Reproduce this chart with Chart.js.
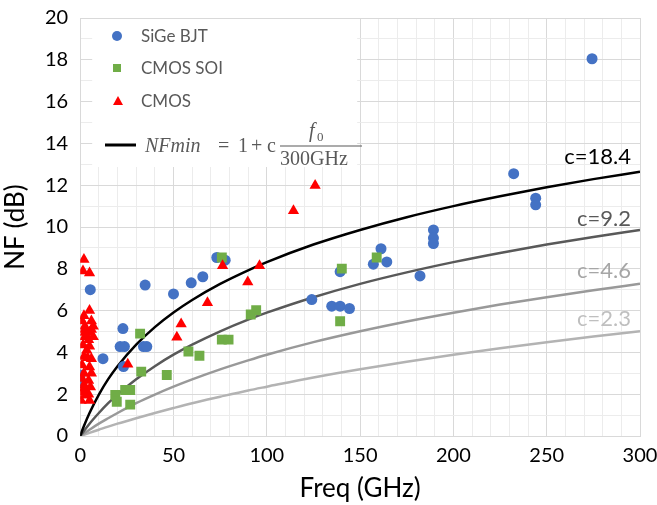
<!DOCTYPE html>
<html>
<head>
<meta charset="utf-8">
<script src="https://cdn.jsdelivr.net/npm/chart.js@4.4.1/dist/chart.umd.min.js"></script>
<style>
  html, body { margin: 0; padding: 0; background: #fff; }
  #wrap { width: 657px; height: 505px; }
</style>
</head>
<body>
<div id="wrap"><canvas id="nfChart" width="657" height="505"></canvas></div>
<script>
// SiGe BJT
const sigeFreq = [274.3, 232.3, 244.1, 244.1, 189.3, 189.3, 189.3, 161.2, 157.1, 164.3, 182.1, 139.3, 134.8, 139.3, 144.3, 124.1, 65.7, 73.2, 77.7, 59.5, 50, 34.8, 22.9, 21.4, 23.7, 33.9, 35.7, 23.2, 12.2, 5.4, 0, 0.5];
const sigeNF   = [18.05, 12.55, 11.38, 11.06, 9.86, 9.47, 9.21, 8.96, 8.22, 8.33, 7.66, 7.86, 6.21, 6.21, 6.1, 6.53, 7.62, 8.54, 8.41, 7.33, 6.8, 7.22, 5.14, 4.28, 4.28, 4.28, 4.28, 3.32, 3.7, 7.0, 2.92, 2.55];

// CMOS SOI
const soiFreq = [18.8, 19.6, 24.1, 26.8, 26.8, 32.1, 32.7, 46.4, 58, 63.9, 75.9, 79.5, 75.9, 91.4, 94.3, 139.3, 140.2, 158.9];
const soiNF   = [1.96, 1.64, 2.2, 2.2, 1.5, 4.9, 3.08, 2.92, 4.04, 3.84, 4.61, 4.61, 8.54, 5.81, 6.02, 5.49, 8.01, 8.54];

// CMOS (bulk)
const cmosFreq = [2, 1.5, 5, 5, 2, 6, 1, 2.5, 7, 2.5, 5, 2.5, 6, 2.5, 7, 4.5, 5, 1.5, 3.5, 2, 4, 6, 1, 5, 2, 6, 1, 4.5, 2, 5.5, 1, 4.5, 0.5, 5, 2, 3,
                  125.9, 114.3, 96.1, 89.8, 76.3, 68.2, 54.1, 51.8, 25.5];
const cmosNF   = [8.45, 7.9, 7.8, 6.0, 5.75, 5.5, 5.5, 5.25, 5.25, 4.95, 4.95, 5.1, 5.1, 4.75, 4.75, 4.6, 4.3, 4.35, 4.1, 3.8, 3.75, 3.7, 3.4, 3.3, 3.0, 3.0, 2.75, 2.65, 2.45, 2.35, 2.1, 2.0, 1.7, 1.7, 2.3, 1.95,
                  11.99, 10.78, 8.14, 7.37, 8.14, 6.37, 5.36, 4.73, 3.43];

// NFmin curves
const curveFreq = [0, 1, 2, 5, 10, 15, 20, 30, 40, 50, 60, 75, 90, 100, 125, 150, 175, 200, 225, 250, 275, 300];
const nfC184 = [0, 0.25, 0.48, 1.10, 1.98, 2.72, 3.34, 4.37, 5.21, 5.91, 6.51, 7.28, 7.93, 8.32, 9.16, 9.86, 10.47, 11.00, 11.47, 11.90, 12.29, 12.64];
const nfC92  = [0, 0.12, 0.24, 0.59, 1.10, 1.57, 1.98, 2.71, 3.34, 3.89, 4.37, 5.01, 5.57, 5.90, 6.64, 7.28, 7.83, 8.32, 8.76, 9.16, 9.52, 9.86];
const nfC46  = [0, 0.06, 0.12, 0.30, 0.59, 0.85, 1.10, 1.57, 1.98, 2.36, 2.71, 3.19, 3.62, 3.89, 4.49, 5.01, 5.48, 5.90, 6.29, 6.64, 6.97, 7.28];
const nfC23  = [0, 0.03, 0.06, 0.15, 0.30, 0.45, 0.59, 0.85, 1.10, 1.34, 1.57, 1.88, 2.18, 2.36, 2.80, 3.19, 3.55, 3.89, 4.20, 4.49, 4.76, 5.01];

const curveLabels = ["c=18.4", "c=9.2", "c=4.6", "c=2.3"];
const curveLabelNF = [13.35, 10.4, 7.9, 5.6];
const curveLabelColors = ["#000000", "#595959", "#a6a6a6", "#bfbfbf"];

const xTicks = [0, 50, 100, 150, 200, 250, 300];
const yTicks = [0, 2, 4, 6, 8, 10, 12, 14, 16, 18, 20];

const pts = (xs, ys) => xs.map((x, i) => ({ x: x, y: ys[i] }));

const FONT = "Lato, 'Open Sans', sans-serif";

// legend drawn as a white box inside the plot, like the original
const boxLegend = {
  id: "boxLegend",
  beforeDatasetsDraw(chart) {
    const ctx = chart.ctx;
    const a = chart.chartArea;
    ctx.save();
    ctx.fillStyle = "#ffffff";
    ctx.fillRect(a.left + 12, a.top + 1, 265, 148);

    ctx.font = "17px " + FONT;
    ctx.textBaseline = "middle";
    ctx.textAlign = "left";

    // SiGe
    ctx.fillStyle = "#4472C4";
    ctx.beginPath(); ctx.arc(117, 36, 5, 0, Math.PI * 2); ctx.fill();
    ctx.fillStyle = "#595959";
    ctx.fillText("SiGe BJT", 141, 37);
    // SOI
    ctx.fillStyle = "#70AD47";
    ctx.fillRect(113, 64, 8, 8);
    ctx.fillStyle = "#595959";
    ctx.fillText("CMOS SOI", 141, 69);
    // CMOS
    ctx.fillStyle = "#FF0000";
    ctx.beginPath(); ctx.moveTo(118, 96); ctx.lineTo(123, 105); ctx.lineTo(113, 105); ctx.closePath(); ctx.fill();
    ctx.fillStyle = "#595959";
    ctx.fillText("CMOS", 141, 102);
    // formula
    ctx.strokeStyle = "#000"; ctx.lineWidth = 3;
    ctx.beginPath(); ctx.moveTo(105, 145); ctx.lineTo(136, 145); ctx.stroke();
    ctx.textBaseline = "alphabetic";
    ctx.font = "italic 20px 'Liberation Serif', serif";
    ctx.fillText("NFmin", 145, 152);
    ctx.font = "20px 'Liberation Serif', serif";
    ctx.fillText("=", 218, 152);
    ctx.fillText("1", 238, 152);
    ctx.fillText("+", 251, 152);
    ctx.fillText("c", 267, 152);
    ctx.font = "italic 20px 'Liberation Serif', serif";
    ctx.fillText("f", 309, 137);
    ctx.font = "13px 'Liberation Serif', serif";
    ctx.fillText("0", 317, 141);
    ctx.strokeStyle = "#595959"; ctx.lineWidth = 1.2;
    ctx.beginPath(); ctx.moveTo(280, 146); ctx.lineTo(362, 146); ctx.stroke();
    ctx.font = "20px 'Liberation Serif', serif";
    ctx.fillText("300GHz", 280, 165);
    ctx.restore();
  }
};

const curveText = {
  id: "curveText",
  afterDatasetsDraw(chart) {
    const ctx = chart.ctx;
    const xs = chart.scales.x, ys = chart.scales.y;
    ctx.save();
    ctx.font = "22px " + FONT;
    ctx.textAlign = "right";
    ctx.textBaseline = "middle";
    curveLabels.forEach((t, i) => {
      ctx.fillStyle = curveLabelColors[i];
      ctx.fillText(t, xs.getPixelForValue(300) - 9, ys.getPixelForValue(curveLabelNF[i]));
    });
    ctx.restore();
  }
};

const lineSet = (data, color) => ({
  type: "line",
  data: pts(curveFreq, data),
  borderColor: color,
  borderWidth: 2.5,
  pointRadius: 0,
  fill: false,
  cubicInterpolationMode: "monotone",
  order: 2
});

new Chart(document.getElementById("nfChart"), {
  type: "scatter",
  data: {
    datasets: [
      lineSet(nfC184, "#000000"),
      lineSet(nfC92, "#595959"),
      lineSet(nfC46, "#999999"),
      lineSet(nfC23, "#b3b3b3"),
      { label: "CMOS", data: pts(cmosFreq, cmosNF), pointStyle: "triangle", pointRadius: 6.5, backgroundColor: "#FF0000", borderColor: "#FF0000", borderWidth: 0, order: 1 },
      { label: "CMOS SOI", data: pts(soiFreq, soiNF), pointStyle: "rect", pointRadius: 7, backgroundColor: "#70AD47", borderColor: "#70AD47", borderWidth: 0, order: 1 },
      { label: "SiGe BJT", data: pts(sigeFreq, sigeNF), pointStyle: "circle", pointRadius: 5.5, backgroundColor: "#4472C4", borderColor: "#4472C4", borderWidth: 0, order: 1 }
    ]
  },
  options: {
    responsive: false,
    animation: false,
    layout: { padding: { left: 3, right: 0, top: 0, bottom: 3 } },
    plugins: { legend: { display: false }, tooltip: { enabled: false } },
    scales: {
      x: {
        type: "linear", min: 0, max: 300,
        afterFit: s => { s.paddingRight = 17; },
        ticks: {
          stepSize: 10, autoSkip: false, maxRotation: 0, padding: 8,
          color: "#000", font: { family: FONT, size: 20 },
          callback: v => xTicks.includes(v) ? v : ""
        },
        grid: { drawTicks: false, color: c => (c.tick && c.tick.value % 50 === 0) ? "#d9d9d9" : "#ececec" },
        border: { color: "#d9d9d9" },
        title: { display: true, text: "Freq (GHz)", color: "#000", font: { family: FONT, size: 26, lineHeight: 1 }, padding: { top: 0, bottom: 0 } }
      },
      y: {
        type: "linear", min: 0, max: 20,
        afterFit: s => { s.paddingTop = 18; },
        ticks: {
          stepSize: 1, autoSkip: false, padding: 12,
          color: "#000", font: { family: FONT, size: 20 },
          callback: v => yTicks.includes(v) ? v : ""
        },
        grid: { drawTicks: false, color: c => (c.tick && c.tick.value % 2 === 0) ? "#d9d9d9" : "#ececec" },
        border: { color: "#d9d9d9" },
        title: { display: true, text: "NF (dB)", color: "#000", font: { family: FONT, size: 26, lineHeight: 1 }, padding: { top: 0, bottom: 4 } }
      }
    }
  },
  plugins: [boxLegend, curveText]
});
</script>
</body>
</html>
